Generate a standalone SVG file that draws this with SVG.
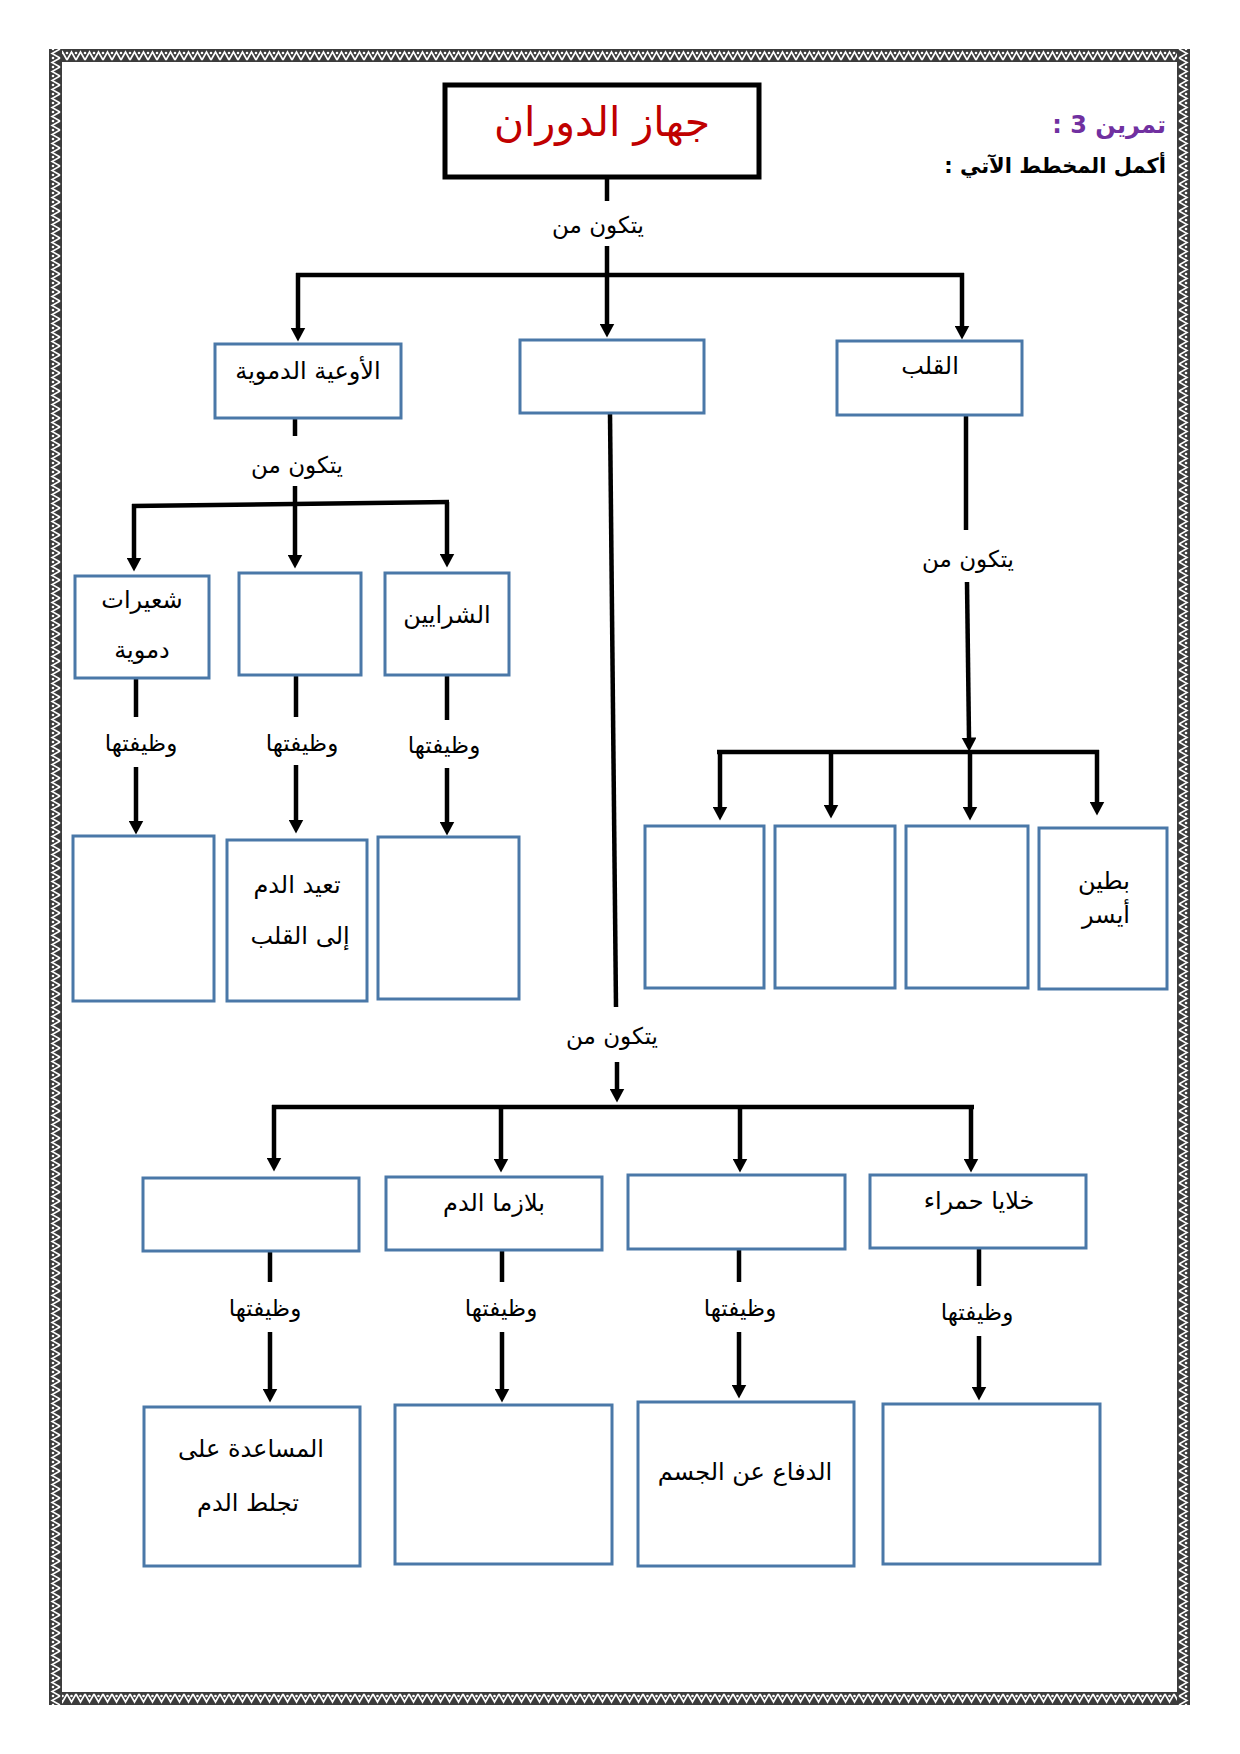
<svg xmlns="http://www.w3.org/2000/svg" width="1240" height="1754" viewBox="0 0 1240 1754">
<style>
.bx{fill:#fff;stroke:#4a78a8;stroke-width:3}
.cn{stroke:#000;stroke-width:4.5;fill:none}
.ar{stroke:#000;stroke-width:4.5;fill:none;marker-end:url(#ah)}
.t{font-family:"DejaVu Sans",sans-serif;font-size:24px;fill:#000;text-anchor:middle;direction:rtl}
.lb{font-family:"DejaVu Sans",sans-serif;font-size:23px;fill:#000;text-anchor:middle;direction:rtl}
</style>
<defs>
<marker id="ah" markerUnits="userSpaceOnUse" viewBox="0 0 14 15" markerWidth="14" markerHeight="15" refX="0.5" refY="7.5" orient="auto">
<path d="M0,0 L14,7.5 L0,15 z" fill="#000"/>
</marker>
<pattern id="pT" patternUnits="userSpaceOnUse" x="49" y="49" width="9" height="13">
<rect width="9" height="13" fill="#3c3c3c"/>
<polyline points="0,11 4.5,3 9,11" fill="none" stroke="#fff" stroke-width="1.6"/>
<circle cx="0" cy="4" r="1.3" fill="#fff"/><circle cx="9" cy="4" r="1.3" fill="#fff"/>
</pattern>
<pattern id="pB" patternUnits="userSpaceOnUse" x="49" y="1692" width="9" height="13">
<rect width="9" height="13" fill="#3c3c3c"/>
<polyline points="0,2 4.5,10 9,2" fill="none" stroke="#fff" stroke-width="1.6"/>
<circle cx="4.5" cy="4" r="1.3" fill="#fff"/>
</pattern>
<pattern id="pL" patternUnits="userSpaceOnUse" x="49" y="49" width="13" height="9">
<rect width="13" height="9" fill="#3c3c3c"/>
<polyline points="11,0 3,4.5 11,9" fill="none" stroke="#fff" stroke-width="1.6"/>
<circle cx="4" cy="0" r="1.3" fill="#fff"/><circle cx="4" cy="9" r="1.3" fill="#fff"/>
</pattern>
<pattern id="pR" patternUnits="userSpaceOnUse" x="1177" y="49" width="13" height="9">
<rect width="13" height="9" fill="#3c3c3c"/>
<polyline points="2,0 10,4.5 2,9" fill="none" stroke="#fff" stroke-width="1.6"/>
<circle cx="9" cy="0" r="1.3" fill="#fff"/><circle cx="9" cy="9" r="1.3" fill="#fff"/>
</pattern>
</defs>
<rect width="1240" height="1754" fill="#fff"/>
<g id="frame">
<rect x="49" y="49" width="1141" height="13" fill="url(#pT)"/>
<rect x="49" y="1692" width="1141" height="13" fill="url(#pB)"/>
<rect x="49" y="49" width="13" height="1656" fill="url(#pL)"/>
<rect x="1177" y="49" width="13" height="1656" fill="url(#pR)"/>
</g>
<g id="header">
<text x="1166" y="133" direction="rtl" style="font-family:'DejaVu Sans',sans-serif;font-size:24px;font-weight:bold;fill:#7030a0;text-anchor:start;direction:rtl">تمرين 3 :</text>
<text x="1166" y="173" direction="rtl" style="font-family:'DejaVu Sans',sans-serif;font-size:21px;font-weight:bold;fill:#000;text-anchor:start;direction:rtl">أكمل المخطط الآتي :</text>
</g>
<g id="connectors">
<line class="cn" x1="607" y1="179" x2="607" y2="201"/>
<line class="cn" x1="296" y1="275" x2="964" y2="275"/>
<line class="ar" x1="298" y1="273" x2="298" y2="328"/>
<line class="ar" x1="607" y1="246" x2="607" y2="324"/>
<line class="ar" x1="962" y1="273" x2="962" y2="326"/>
<line class="cn" x1="295" y1="419" x2="295" y2="436"/>
<line class="cn" x1="295" y1="486" x2="295" y2="504"/>
<line class="cn" x1="132" y1="506" x2="449" y2="502"/>
<line class="ar" x1="134" y1="504" x2="134" y2="558"/>
<line class="ar" x1="295" y1="502" x2="295" y2="555"/>
<line class="ar" x1="447" y1="502" x2="447" y2="554"/>
<line class="cn" x1="136" y1="679" x2="136" y2="717"/>
<line class="ar" x1="136" y1="767" x2="136" y2="821"/>
<line class="cn" x1="296" y1="676" x2="296" y2="717"/>
<line class="ar" x1="296" y1="765" x2="296" y2="820"/>
<line class="cn" x1="447" y1="676" x2="447" y2="720"/>
<line class="ar" x1="447" y1="768" x2="447" y2="822"/>
<line class="cn" x1="966" y1="416" x2="966" y2="530"/>
<line class="ar" x1="967" y1="582" x2="969" y2="738"/>
<line class="cn" x1="717" y1="752" x2="1099" y2="752"/>
<line class="ar" x1="720" y1="750" x2="720" y2="807"/>
<line class="ar" x1="831" y1="750" x2="831" y2="805"/>
<line class="ar" x1="970" y1="750" x2="970" y2="807"/>
<line class="ar" x1="1097" y1="750" x2="1097" y2="802"/>
<line class="cn" x1="610" y1="414" x2="616" y2="1007"/>
<line class="ar" x1="617" y1="1062" x2="617" y2="1089"/>
<line class="cn" x1="272" y1="1107" x2="974" y2="1107"/>
<line class="ar" x1="274" y1="1105" x2="274" y2="1158"/>
<line class="ar" x1="501" y1="1107" x2="501" y2="1159"/>
<line class="ar" x1="740" y1="1107" x2="740" y2="1159"/>
<line class="ar" x1="971" y1="1105" x2="971" y2="1159"/>
<line class="cn" x1="270" y1="1252" x2="270" y2="1282"/>
<line class="ar" x1="270" y1="1332" x2="270" y2="1389"/>
<line class="cn" x1="502" y1="1251" x2="502" y2="1282"/>
<line class="ar" x1="502" y1="1332" x2="502" y2="1389"/>
<line class="cn" x1="739" y1="1250" x2="739" y2="1282"/>
<line class="ar" x1="739" y1="1332" x2="739" y2="1385"/>
<line class="cn" x1="979" y1="1249" x2="979" y2="1286"/>
<line class="ar" x1="979" y1="1336" x2="979" y2="1387"/>
</g>
<g id="labels">
<text class="lb" x="598" y="233">يتكون من</text>
<text class="lb" x="297" y="473">يتكون من</text>
<text class="lb" x="968" y="567">يتكون من</text>
<text class="lb" x="612" y="1044">يتكون من</text>
<text class="lb" x="141" y="751">وظيفتها</text>
<text class="lb" x="302" y="751">وظيفتها</text>
<text class="lb" x="444" y="753">وظيفتها</text>
<text class="lb" x="265" y="1316">وظيفتها</text>
<text class="lb" x="501" y="1316">وظيفتها</text>
<text class="lb" x="740" y="1316">وظيفتها</text>
<text class="lb" x="977" y="1320">وظيفتها</text>
</g>
<g id="n-title">
<rect x="445" y="85" width="314" height="92" fill="#fff" stroke="#000" stroke-width="5"/>
<text x="602" y="136" style="font-family:'DejaVu Sans',sans-serif;font-size:41px;fill:#c00000;text-anchor:middle;direction:rtl">جهاز الدوران</text>
</g>
<g id="n-vessels"><rect class="bx" x="215" y="344" width="186" height="74"/><text class="t" x="308" y="379">الأوعية الدموية</text></g>
<g id="n-blood"><rect class="bx" x="520" y="340" width="184" height="73"/></g>
<g id="n-heart"><rect class="bx" x="837" y="341" width="185" height="74"/><text class="t" x="930" y="374">القلب</text></g>
<g id="n-capillaries"><rect class="bx" x="75" y="576" width="134" height="102"/><text class="t" x="142" y="608">شعيرات</text><text class="t" x="142" y="658">دموية</text></g>
<g id="n-veins"><rect class="bx" x="239" y="573" width="122" height="102"/></g>
<g id="n-arteries"><rect class="bx" x="385" y="573" width="124" height="102"/><text class="t" x="447" y="623">الشرايين</text></g>
<g id="n-cap-fn"><rect class="bx" x="73" y="836" width="141" height="165"/></g>
<g id="n-veins-fn"><rect class="bx" x="227" y="840" width="140" height="161"/><text class="t" x="297" y="893">تعيد الدم</text><text class="t" x="300" y="944">إلى القلب</text></g>
<g id="n-art-fn"><rect class="bx" x="378" y="837" width="141" height="162"/></g>
<g id="n-h1"><rect class="bx" x="645" y="826" width="119" height="162"/></g>
<g id="n-h2"><rect class="bx" x="775" y="826" width="120" height="162"/></g>
<g id="n-h3"><rect class="bx" x="906" y="826" width="122" height="162"/></g>
<g id="n-h4"><rect class="bx" x="1039" y="828" width="128" height="161"/><text class="t" x="1104" y="889">بطين</text><text class="t" x="1106" y="923">أيسر</text></g>
<g id="n-b1"><rect class="bx" x="143" y="1178" width="216" height="73"/></g>
<g id="n-plasma"><rect class="bx" x="386" y="1177" width="216" height="73"/><text class="t" x="494" y="1211">بلازما الدم</text></g>
<g id="n-b3"><rect class="bx" x="628" y="1175" width="217" height="74"/></g>
<g id="n-red"><rect class="bx" x="870" y="1175" width="216" height="73"/><text class="t" x="979" y="1209">خلايا حمراء</text></g>
<g id="n-b1-fn"><rect class="bx" x="144" y="1407" width="216" height="159"/><text class="t" x="251" y="1457">المساعدة على</text><text class="t" x="248" y="1511">تجلط الدم</text></g>
<g id="n-plasma-fn"><rect class="bx" x="395" y="1405" width="217" height="159"/></g>
<g id="n-b3-fn"><rect class="bx" x="638" y="1402" width="216" height="164"/><text class="t" x="745" y="1480">الدفاع عن الجسم</text></g>
<g id="n-red-fn"><rect class="bx" x="883" y="1404" width="217" height="160"/></g>
</svg>
